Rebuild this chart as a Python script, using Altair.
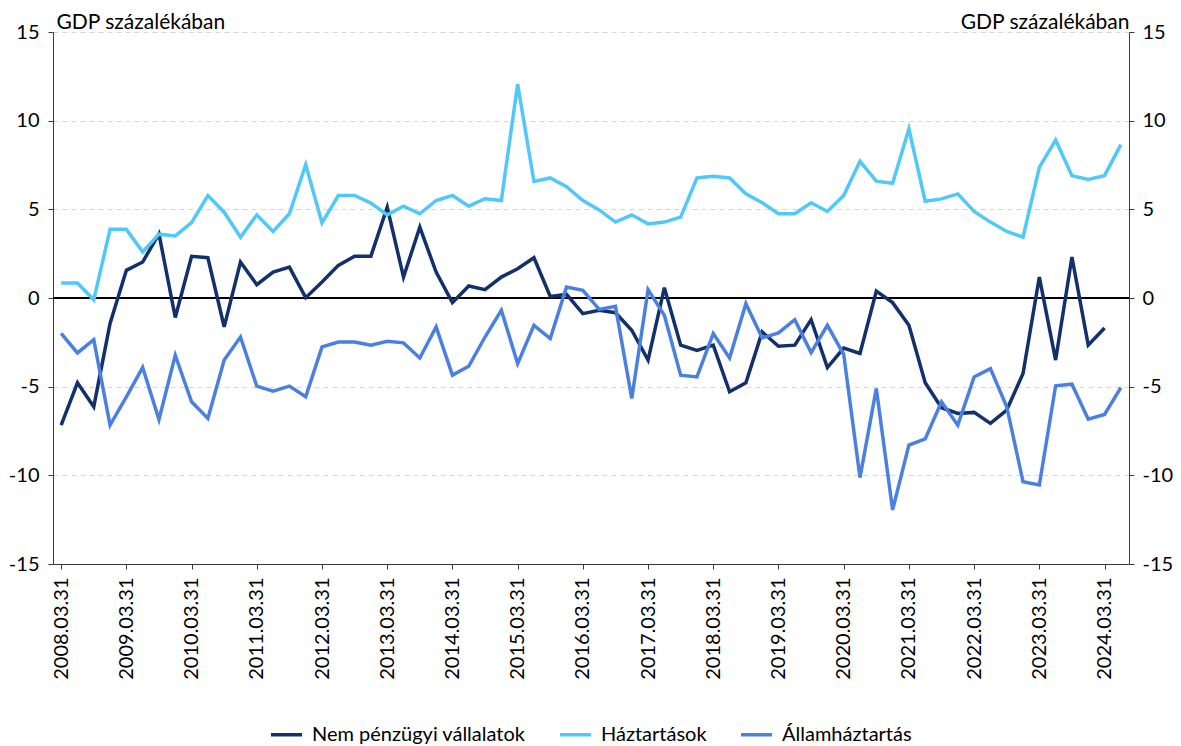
import altair as alt
import pandas as pd

# ---- data (quarterly, GDP %) ----
years = list(range(2008, 2025))
quarter_ends = ["03.31", "06.30", "09.30", "12.31"]
quarters = [f"{y}.{q}" for y in years for q in quarter_ends][:66]  # 2008Q1 .. 2024Q2
tick_labels = [f"{y}.03.31" for y in years]

nem_penzugyi = [
    -7.17, -4.78, -6.13, -1.44, 1.56, 2.03, 3.62, -1.1, 2.35, 2.27, -1.63, 2.03, 0.75, 1.46, 1.74, 0.02,
    0.9, 1.84, 2.36, 2.36, 5.12, 1.18, 4.0, 1.46, -0.26, 0.68, 0.47, 1.18, 1.65, 2.27, 0.09, 0.2,
    -0.88, -0.69, -0.83, -1.82, -3.5, 0.58, -2.66, -2.95, -2.66, -5.29, -4.78, -1.91, -2.72, -2.66, -1.22, -3.92,
    -2.82, -3.13, 0.39, -0.26, -1.54, -4.78, -6.19, -6.51, -6.45, -7.07, -6.32, -4.26, 1.18, -3.5, 2.31, -2.66,
    -1.69,
]
haztartasok = [
    0.85, 0.85, -0.1, 3.87, 3.87, 2.6, 3.6, 3.5, 4.25, 5.78, 4.84, 3.43, 4.69, 3.75, 4.75, 7.52,
    4.24, 5.78, 5.78, 5.35, 4.69, 5.18, 4.75, 5.5, 5.78, 5.18, 5.6, 5.5, 12.06, 6.57, 6.77, 6.28,
    5.5, 4.97, 4.28, 4.69, 4.18, 4.28, 4.56, 6.77, 6.87, 6.77, 5.87, 5.37, 4.75, 4.75, 5.37, 4.88,
    5.78, 7.71, 6.59, 6.47, 9.53, 5.46, 5.59, 5.87, 4.88, 4.28, 3.75, 3.43, 7.37, 8.91, 6.9, 6.68,
    6.9, 8.65,
]
allamhaztartas = [
    -2.0, -3.1, -2.35, -7.17, -5.57, -3.92, -6.85, -3.23, -5.85, -6.79, -3.5, -2.2, -4.97, -5.25, -4.97, -5.57,
    -2.76, -2.48, -2.48, -2.66, -2.44, -2.53, -3.38, -1.63, -4.35, -3.85, -2.2, -0.69, -3.7, -1.54, -2.29, 0.62,
    0.43, -0.64, -0.47, -5.67, 0.47, -0.98, -4.35, -4.45, -2.0, -3.38, -0.32, -2.25, -1.97, -1.22, -3.08, -1.54,
    -3.18, -10.13, -5.1, -11.95, -8.29, -7.95, -5.85, -7.17, -4.45, -3.98, -6.13, -10.36, -10.54, -4.95, -4.86, -6.83,
    -6.57, -5.05,
]

series_names = ["Nem pénzügyi vállalatok", "Háztartások", "Államháztartás"]
series_colors = ["#12306b", "#50c8f8", "#4a80e0"]
y_ticks = [-15, -10, -5, 0, 5, 10, 15]

rows = []
for name, vals in zip(series_names, [nem_penzugyi, haztartasok, allamhaztartas]):
    for i, v in enumerate(vals):
        rows.append({"q": quarters[i], "v": v, "s": name, "o": series_names.index(name)})
df = pd.DataFrame(rows)

FONT = "Lato"
FS = 20
AXC = "#3a3a3a"

yscale = alt.Scale(domain=[-15, 15], nice=False, zero=False)
xscale = alt.Scale(type="point", domain=quarters, padding=0.5)

lines = alt.Chart(df).mark_line(strokeWidth=3.5).encode(
    x=alt.X("q:O", scale=xscale, sort=quarters,
            axis=alt.Axis(values=tick_labels, labelAngle=-90, title=None,
                          tickSize=5, labelPadding=8, grid=False,
                          domainColor=AXC, tickColor=AXC)),
    y=alt.Y("v:Q", scale=yscale,
            axis=alt.Axis(values=y_ticks, orient="left", title="GDP százalékában",
                          labelExpr="'' + datum.value",
                          titleAngle=0, titleAlign="left", titleX=3, titleY=-4,
                          titleBaseline="alphabetic",
                          grid=True, gridDash=[5, 4], gridColor="#d6d6d6",
                          tickSize=5, labelPadding=9,
                          domainColor=AXC, tickColor=AXC)),
    color=alt.Color("s:N", scale=alt.Scale(domain=series_names, range=series_colors),
                    legend=alt.Legend(orient="none", legendX=216, legendY=685,
                                      direction="horizontal", title=None,
                                      symbolType="stroke", symbolSize=961,
                                      symbolStrokeWidth=3.5, labelOffset=8,
                                      labelLimit=0, columnPadding=27)),
    order=alt.Order("o:Q"),
)

zero_df = pd.DataFrame({"v": [0]})
zero = alt.Chart(zero_df).mark_rule(color="black", strokeWidth=2).encode(
    y=alt.Y("v:Q", scale=yscale,
            axis=alt.Axis(values=y_ticks, orient="right", title="GDP százalékában",
                          labelExpr="'' + datum.value",
                          titleAngle=0, titleAlign="right", titleX=0, titleY=-4,
                          titleBaseline="alphabetic", grid=False,
                          tickSize=5, labelPadding=8,
                          domainColor=AXC, tickColor=AXC)),
)

chart = alt.layer(zero, lines).resolve_axis(y="independent").properties(
    width=1076, height=532,
    autosize=alt.AutoSizeParams(type="none"),
    padding={"left": 45, "top": 24, "right": 44, "bottom": 180},
).configure_view(stroke=None).configure_axis(
    labelFont=FONT, labelFontSize=FS, labelColor="black",
    titleFont=FONT, titleFontSize=21, titleColor="black", titleFontWeight="normal",
).configure_legend(
    labelFont=FONT, labelFontSize=FS, labelColor="black", padding=0,
)

chart.save("out.html", embed_options={"renderer": "svg", "actions": False})
